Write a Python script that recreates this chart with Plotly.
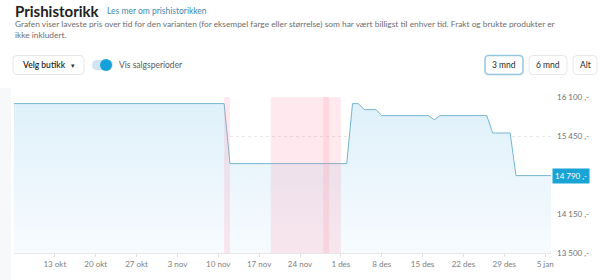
import plotly.graph_objects as go

# ---- data ----
dates = ["2024-10-06", "2024-11-11", "2024-11-12", "2024-12-02", "2024-12-03",
         "2024-12-04", "2024-12-05", "2024-12-07", "2024-12-08", "2024-12-16",
         "2024-12-17", "2024-12-18", "2024-12-26", "2024-12-27", "2024-12-30",
         "2024-12-31", "2025-01-06"]
prices = [15990, 15990, 14990, 14990, 15990, 15990, 15890, 15890, 15790, 15790,
          15720, 15790, 15790, 15500, 15500, 14790, 14790]

sale_starts = ["2024-11-11", "2024-11-19", "2024-11-28"]
sale_ends = ["2024-11-12", "2024-11-29", "2024-12-01"]

tick_dates = ["2024-10-13", "2024-10-20", "2024-10-27", "2024-11-03", "2024-11-10",
              "2024-11-17", "2024-11-24", "2024-12-01", "2024-12-08", "2024-12-15",
              "2024-12-22", "2024-12-29", "2025-01-05"]
tick_labels = ["13 okt", "20 okt", "27 okt", "3 nov", "10 nov", "17 nov", "24 nov",
               "1 des", "8 des", "15 des", "22 des", "29 des", "5 jan"]
y_ticks = [13500, 14150, 15450, 16100]
y_labels = ["13 500 ,-", "14 150 ,-", "15 450 ,-", "16 100 ,-"]
current_price = 14790
current_label = "14 790 ,-"

# ---- layout geometry (pixels) ----
W, H = 600, 280
L, R, T, B = 14, 49, 97, 27
PW, PH = W - L - R, H - T - B
FONT = "Lato"


def px(x):
    return (x - L) / PW


def py(y):
    return (H - B - y) / PH


def rrect(x0, y0, x1, y1, r):
    rx, ry = r / PW, r / PH
    a, b, c, d = px(x0), py(y1), px(x1), py(y0)
    return (f"M{a+rx},{b} L{c-rx},{b} Q{c},{b} {c},{b+ry} L{c},{d-ry} Q{c},{d} {c-rx},{d} "
            f"L{a+rx},{d} Q{a},{d} {a},{d-ry} L{a},{b+ry} Q{a},{b} {a+rx},{b} Z")


fig = go.Figure()
fig.add_trace(go.Scatter(
    x=dates, y=prices, mode="lines",
    line=dict(color="#74b6d2", width=1),
    fill="tozeroy",
    fillgradient=dict(type="vertical", start=13500, stop=16100,
                      colorscale=[[0, "rgb(247,251,254)"], [1, "rgb(222,240,250)"]]),
    hoverinfo="skip", showlegend=False,
))

shapes = []
for s, e in zip(sale_starts, sale_ends):
    shapes.append(dict(type="rect", xref="x", yref="paper", x0=s, x1=e, y0=0, y1=1,
                       fillcolor="rgba(255,140,165,0.19)", line=dict(width=0), layer="above"))

# left pale strip
shapes.append(dict(type="rect", xref="paper", yref="paper", x0=px(0), x1=px(11),
                   y0=py(280), y1=py(88), fillcolor="#f7f8f9", line=dict(width=0), layer="below"))
# dropdown button
shapes.append(dict(type="path", xref="paper", yref="paper", path=rrect(13, 55.5, 84, 74.5, 4),
                   fillcolor="white", line=dict(color="#e6e6e6", width=1)))
# toggle
shapes.append(dict(type="path", xref="paper", yref="paper", path=rrect(92, 60, 113, 70, 5),
                   fillcolor="#cfe5f2", line=dict(width=0)))
shapes.append(dict(type="circle", xref="paper", yref="paper", x0=px(100), x1=px(112),
                   y0=py(71), y1=py(59), fillcolor="#17a1da", line=dict(width=0)))
# range buttons
shapes.append(dict(type="path", xref="paper", yref="paper", path=rrect(485, 55.5, 523, 74.5, 4),
                   fillcolor="white", line=dict(color="#94c8e2", width=1.5)))
shapes.append(dict(type="path", xref="paper", yref="paper", path=rrect(529, 55.5, 567, 74.5, 4),
                   fillcolor="white", line=dict(color="#e8e8e8", width=1)))
shapes.append(dict(type="path", xref="paper", yref="paper", path=rrect(573, 55.5, 597, 74.5, 4),
                   fillcolor="white", line=dict(color="#e8e8e8", width=1)))

ann = []


def text(x, y, s, size, color, anchor="left", weight="normal"):
    ann.append(dict(xref="paper", yref="paper", x=px(x), y=py(y), text=s, showarrow=False,
                    xanchor=anchor, yanchor="middle",
                    font=dict(family=FONT, size=size, color=color, weight=weight)))


text(13, 11, "Prishistorikk", 15, "#222222", weight="bold")
text(105, 11, "Les mer om prishistorikken", 8.5, "#4289b0")
text(13, 24, "Grafen viser laveste pris over tid for den varianten (for eksempel farge eller størrelse) "
     "som har vært billigst til enhver tid. Frakt og brukte produkter er", 8.35, "#6e6e6e")
text(13, 35, "ikke inkludert.", 8.35, "#6e6e6e")
text(20, 65, "Velg butikk", 8.5, "#2a2a2a", weight=600)
text(73, 65, "▾", 7, "#333333", anchor="center")
text(117, 65, "Vis salgsperioder", 8.5, "#5a5a5a")
text(504, 65, "3 mnd", 8.5, "#2a2a2a", anchor="center")
text(548, 65, "6 mnd", 8.5, "#2a2a2a", anchor="center")
text(585, 65, "Alt", 8.5, "#2a2a2a", anchor="center")

ann.append(dict(xref="paper", yref="y", x=1, y=current_price, text=current_label,
                showarrow=False, xanchor="left", yanchor="middle", xshift=1,
                bgcolor="#1aa3d5", borderpad=2,
                font=dict(family=FONT, size=8, color="white")))

fig.update_layout(
    width=W, height=H, autosize=False,
    margin=dict(l=L, r=R, t=T, b=B),
    paper_bgcolor="white", plot_bgcolor="white",
    font=dict(family=FONT),
    shapes=shapes, annotations=ann,
    xaxis=dict(range=[dates[0], dates[-1]], tickvals=tick_dates, ticktext=tick_labels,
               showgrid=False, zeroline=False, showline=True, linecolor="#e6e6e6",
               ticks="outside", ticklen=3, tickcolor="#e0e0e0",
               tickfont=dict(family=FONT, size=8, color="#808080")),
    yaxis=dict(range=[13500, 16100], side="right", tickvals=y_ticks, ticktext=y_labels,
               showgrid=True, gridcolor="#e6e6e6", griddash="dot", zeroline=False,
               ticklabelstandoff=5,
               tickfont=dict(family=FONT, size=8, color="#707070")),
)

fig.write_html("out.html")
